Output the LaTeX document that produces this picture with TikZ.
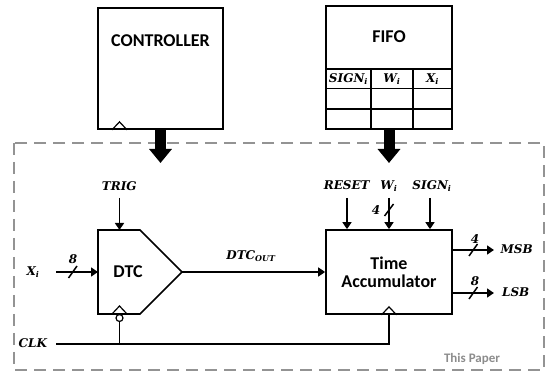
\documentclass[tikz,border=0pt]{standalone}
\usepackage{fontspec}
\setsansfont{Carlito}
\newfontfamily\lblfont{DejaVu Serif}
\usetikzlibrary{arrows.meta}
% bold italic signal name with an optional subscript
\newcommand{\sg}[2][]{{\lblfont\bfseries\itshape #2\textsubscript{#1}}}
\begin{document}
\begin{tikzpicture}[x=1pt,y=-1pt,
  blk/.style={draw, line width=1.7pt, inner sep=0pt},
  wire/.style={line width=1.5pt},
  sig/.style={wire, -{Triangle[length=7pt,width=9pt]}},
  bus/.style={line width=11pt, -{Triangle[length=14pt,width=22pt]}},
  title/.style={font=\sffamily\bfseries\fontsize{18}{21}\selectfont},
  lbl/.style={font=\fontsize{12}{14}\selectfont, inner sep=1pt},
  num/.style={font=\fontsize{12}{14}\selectfont\lblfont\bfseries\itshape, inner sep=0pt},
  clk/.style={line width=1.2pt},
  cell/.style={line width=1.4pt},
  frame/.style={draw=gray!85, line width=1.6pt, dash pattern=on 12pt off 7pt}
]
\useasboundingbox (0,0) rectangle (550,377);

% enclosing boundary
\draw[frame] (14,143) rectangle (544,370);
\node[font=\sffamily\bfseries\fontsize{13}{15}\selectfont, text=gray!90] (paper) at (472,359) {This Paper};

% controller
\node[blk, minimum width=125pt, minimum height=121pt] (ctrl) at (160.5,68.5) {};
\node[title] (ctrlT) at (160.5,41) {CONTROLLER};
\draw[clk] ([xshift=-48.5pt]ctrl.south) -- ++(7.5,-8) -- ++(7.5,8);

% FIFO with its table
\node[blk, minimum width=126pt, minimum height=123pt] (fifo) at (389,67.5) {};
\node[title] (fifoT) at (389,37) {FIFO};
\coordinate (r1) at (326,69);
\coordinate (r2) at (326,88.5);
\coordinate (r3) at (326,109);
\coordinate (c1) at (371,129);
\coordinate (c2) at (413,129);
\draw[cell] (r1) -- (r1 -| fifo.east);
\draw[cell] (r2) -- (r2 -| fifo.east);
\draw[cell] (r3) -- (r3 -| fifo.east);
\draw[cell] (c1) -- (c1 |- r1);
\draw[cell] (c2) -- (c2 |- r1);
\node[lbl] (hS) at (348.5,79) {\sg[i]{SIGN}};
\node[lbl] (hW) at (392,79) {\sg[i]{W}};
\node[lbl] (hX) at (432.5,79) {\sg[i]{X}};

% wide transfer arrows
\coordinate (ctrlIn) at (160.5,163);
\coordinate (fifoIn) at (389,163);
\draw[bus] (ctrl.south) -- (ctrlIn);
\draw[bus] (fifo.south) -- (fifoIn);

% DTC
\coordinate (dtcNW) at (98,230);
\coordinate (dtcNE) at (140,230);
\coordinate (dtcOut) at (182,272);
\coordinate (dtcSE) at (140,314);
\coordinate (dtcSW) at (98,314);
\coordinate (dtcIn) at (98,272);
\coordinate (dtcTop) at (119.5,230);
\coordinate (dtcClk) at (119.5,314);
\draw[line width=1.7pt, line join=miter] (dtcNW) -- (dtcNE) -- (dtcOut) -- (dtcSE) -- (dtcSW) -- cycle;
\node[title] (dtcT) at (128,272) {DTC};
\draw[clk] ([xshift=-7.5pt]dtcClk) -- ++(7.5,-8) -- ++(7.5,8);
\node[circle, draw, line width=1.2pt, minimum size=7pt, inner sep=0pt, fill=white] (bub) at (119.5,318) {};

% Time accumulator
\node[blk, minimum width=126pt, minimum height=84pt, title, align=center] (ta) at (389,272) {Time\\[-3pt]Accumulator};
\draw[clk] ([xshift=-7.5pt]ta.south) -- ++(7.5,-8) -- ++(7.5,8);

% inputs of DTC
\node[lbl] (trig) at (119.5,187) {\sg{TRIG}};
\draw[sig] (trig.south |- 0,198) -- (dtcTop);
\node[lbl] (xi) at (33,272) {\sg[i]{X}};
\coordinate (xiS) at (56,272);
\draw[sig] (xiS) -- (dtcIn);
\draw[wire] (68.5,278) -- (77,266);
\node[num] (n8a) at (73,259) {8};

% DTC output
\node[lbl] (dtco) at (251,256) {\sg[OUT]{DTC}};
\draw[sig] (dtcOut) -- (ta.west);

% inputs of the accumulator
\node[lbl] (rst) at (347,186) {\sg{RESET}};
\node[lbl] (wi) at (389,186) {\sg[i]{W}};
\node[lbl] (sgn) at (432,186) {\sg[i]{SIGN}};
\coordinate (rstS) at (347,198);
\coordinate (wiS) at (389,198);
\coordinate (sgS) at (430,198);
\draw[sig] (rstS) -- (rstS |- ta.north);
\draw[sig] (wiS) -- (wiS |- ta.north);
\draw[sig] (sgS) -- (sgS |- ta.north);
\draw[wire] (384.5,216) -- (393.5,204);
\node[num] (n4a) at (376,210) {4};

% accumulator outputs
\coordinate (msbS) at (452,250);
\coordinate (msbE) at (494,250);
\coordinate (lsbS) at (452,293);
\coordinate (lsbE) at (494,293);
\draw[sig] (msbS) -- (msbE);
\draw[sig] (lsbS) -- (lsbE);
\draw[wire] (469,256) -- (477.5,244);
\draw[wire] (469,299) -- (477.5,287);
\node[num] (n4b) at (475,239) {4};
\node[num] (n8b) at (475,281) {8};
\node[lbl] (msb) at (517,250) {\sg{MSB}};
\node[lbl] (lsb) at (516,293) {\sg{LSB}};

% clock distribution
\node[lbl] (clkL) at (33,344) {\sg{CLK}};
\coordinate (clkS) at (56,344);
\draw[wire] (clkS) -- (ta.south |- clkS) -- (ta.south);
\draw[wire] (bub.south) -- (bub.south |- clkS);
\end{tikzpicture}
\end{document}
